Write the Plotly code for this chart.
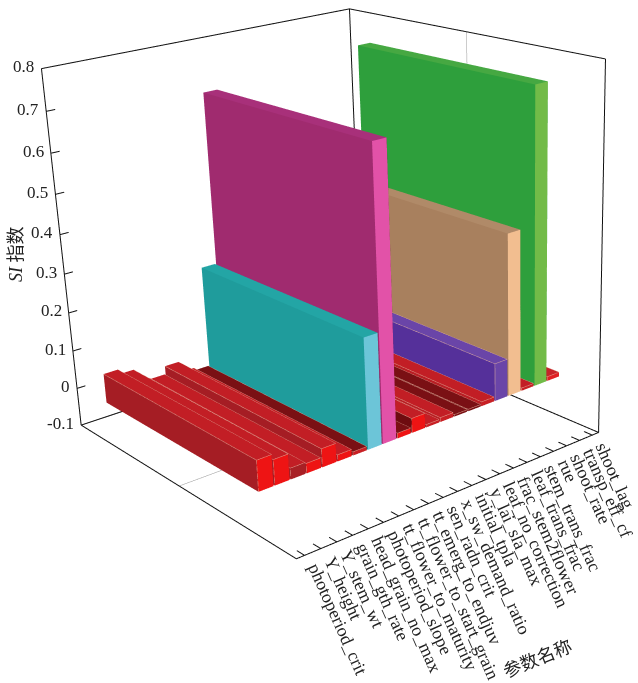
import plotly.graph_objects as go

labels = ["photoperiod_crit", "Y_height", "Y_stem_wt", "grain_gth_rate", "head_grain_no_max",
          "photoperiod_slope", "tt_flower_to_maturity", "tt_flower_to_start_grain", "tt_emerg_to_endjuv",
          "sen_radn_crit", "x_sw_demand_ratio", "initial_tpla", "y_lai_sla_max", "leaf_no_correction",
          "frac_stem2flower", "leaf_trans_frac", "stem_trans_frac", "rue", "shoot_rate",
          "transp_eff_cf", "shoot_lag"]
si = [0.075, 0.062, 0.027, 0.024, 0.045, 0.016, 0.009, 0.27, 0.70, 0.013, 0.036, 0.007, 0.011,
      0.005, 0.005, 0.011, 0.095, 0.405, 0.007, 0.735, 0.011]
side = ["#A51D24", "#A51D24", "#A51D24", "#A51D24", "#A51D24", "#A51D24", "#6E0C10", "#1F9C9C", "#A02B6F",
        "#6E0C10", "#6E0C10", "#A51D24", "#B81E24", "#6E0C10", "#6E0C10", "#B81E24", "#55309A", "#A8805E",
        "#B81E24", "#2E9F3C", "#C01F25"]
top = ["#C21E25", "#C21E25", "#C21E25", "#C21E25", "#C21E25", "#C21E25", "#7A1014", "#23A5A5", "#A8307A",
       "#7A1014", "#C21E25", "#C21E25", "#C21E25", "#7A1014", "#7A1014", "#C21E25", "#6A45A8", "#B08A68",
       "#C21E25", "#46A842", "#C8232A"]
end = ["#EE1414", "#EE1414", "#A82025", "#EE1414", "#EE1414", "#EE1414", "#C82025", "#6CC5D8", "#E252A8",
       "#EE1414", "#EE1414", "#C82025", "#C82025", "#7A1014", "#7A1014", "#C82025", "#6A45A8", "#F2BE90",
       "#C82025", "#72BB48", "#E02025"]
z_ticks = [-0.1, 0, 0.1, 0.2, 0.3, 0.4, 0.5, 0.6, 0.7, 0.8]

X0, X1 = 0.5, 21.5
Y0, Y1 = 0.0, 1.0
Z0, Z1 = -0.1, 0.8
BAR_Y0, BAR_Y1 = 0.155, 0.86
BAR_OFFSET = 0.19
HALF = 0.46
PADY, PADZ = 0.002, 0.002
XL, XR = 0.2, 22.3

vx, vy, vz, fi, fj, fk, fc = [], [], [], [], [], [], []
def quad(pts, col):
    n = len(vx)
    for p in pts:
        vx.append(p[0]); vy.append(p[1]); vz.append(p[2])
    fi.extend([n, n]); fj.extend([n + 1, n + 2]); fk.extend([n + 2, n + 3]); fc.extend([col, col])

ex, ey, ez = [], [], []
def seg(a, b, store=None):
    xs, ys, zs = store
    xs.extend([a[0], b[0], None]); ys.extend([a[1], b[1], None]); zs.extend([a[2], b[2], None])

for i, h in enumerate(si):
    c = BAR_OFFSET + (i + 1)
    a, b = c - HALF, c + HALF
    p, q = BAR_Y0, BAR_Y1
    quad([(a, p, 0), (a, q, 0), (a, q, h), (a, p, h)], side[i])
    quad([(b, p, 0), (b, q, 0), (b, q, h), (b, p, h)], side[i])
    quad([(a, p, 0), (b, p, 0), (b, p, h), (a, p, h)], end[i])
    quad([(a, q, 0), (b, q, 0), (b, q, h), (a, q, h)], side[i])
    quad([(a, p, h), (b, p, h), (b, q, h), (a, q, h)], top[i])
    if h < 0.2:
        seg((a, p, h), (a, q, h), (ex, ey, ez))
        seg((a, p, h), (b, p, h), (ex, ey, ez))
        seg((a, p, h), (a, p, 0), (ex, ey, ez))
        seg((b, p, h), (b, q, h), (ex, ey, ez))

bars = go.Mesh3d(x=vx, y=vy, z=vz, i=fi, j=fj, k=fk, facecolor=fc, flatshading=True,
                 lighting=dict(ambient=1, diffuse=0, specular=0, fresnel=0, roughness=1),
                 hoverinfo="skip", showscale=False)
edges = go.Scatter3d(x=ex, y=ey, z=ez, mode="lines", line=dict(color="#E6B4A0", width=1), hoverinfo="skip")

bx, by, bz = [], [], []
for a, b in [((X0, Y0, Z0), (X1, Y0, Z0)), ((X0, Y0, Z0), (X0, Y1, Z0)), ((X1, Y0, Z0), (X1, Y1, Z0)),
             ((X0, Y1, Z0), (X1, Y1, Z0)), ((X0, Y1, Z0), (X0, Y1, Z1)), ((X1, Y1, Z0), (X1, Y1, Z1)),
             ((X1, Y0, Z0), (X1, Y0, Z1)), ((X0, Y1, Z1), (X1, Y1, Z1)), ((X1, Y0, Z1), (X1, Y1, Z1))]:
    seg(a, b, (bx, by, bz))
for zt in z_ticks:
    seg((X0, Y1, zt), (X0 + 0.55, Y1, zt), (bx, by, bz))
for c in range(1, len(labels) + 1):
    seg((c, Y0, Z0), (c, Y0 + 0.03, Z0), (bx, by, bz))
frame = go.Scatter3d(x=bx, y=by, z=bz, mode="lines", line=dict(color="#111111", width=2), hoverinfo="skip")

gx, gy, gz = [], [], []
seg((X0, 0.5, Z0), (X1, 0.5, Z0), (gx, gy, gz))
seg((X1, 0.5, Z0), (X1, 0.5, Z1), (gx, gy, gz))
grid = go.Scatter3d(x=gx, y=gy, z=gz, mode="lines", line=dict(color="#999999", width=1), hoverinfo="skip")

TF = "Liberation Serif"
ann = []
for zt in z_ticks:
    ann.append(dict(x=X0, y=Y1, z=zt, text=f"{zt:g}", showarrow=False, xanchor="right", yanchor="middle",
                    xshift=-5, yshift=2, font=dict(family=TF, size=17, color="#222222")))
for c, lab in enumerate(labels, start=1):
    ann.append(dict(x=c, y=Y0, z=Z0, text=lab, showarrow=False, xanchor="left", yanchor="top", textangle=66,
                    xshift=-3, yshift=-2, font=dict(family=TF, size=18, color="#222222")))

axis = dict(showgrid=False, zeroline=False, showline=False, showticklabels=False, showbackground=False,
            showspikes=False, title="", ticks="")
xspan = XR - XL
aspect = dict(x=xspan / (X1 - X0), y=1 + 2 * PADY / (Y1 - Y0), z=1 + 2 * PADZ / (Z1 - Z0))
shift = ((XL + XR) / 2 - (X0 + X1) / 2) / (X1 - X0)
eye = (-2.4237 - shift, -3.2502, 1.398)
center = (-0.0737 - shift, -0.0512, -0.2101)
up = (0.2623, 0.2716, 0.9254)

# plotly's 3D view has a fixed 45 degree field of view; the reference uses about half of that,
# so the figure is drawn at twice the window size and centred on the window.
SCALE = 2
W, H = 638, 683
FW, FH = W * SCALE, H * SCALE
OX, OY = (FW - W) // 2, (FH - H) // 2

def paper(px, py):
    return (px + OX) / FW, 1 - (py + OY) / FH

tx1, ty1 = paper(16, 254)
tx2, ty2 = paper(537, 657)
fig = go.Figure([grid, bars, edges, frame])
fig.update_layout(
    width=FW, height=FH, margin=dict(l=0, r=0, t=0, b=0), showlegend=False,
    paper_bgcolor="white", plot_bgcolor="white",
    scene=dict(
        domain=dict(x=[0, 1], y=[0, 1]),
        xaxis=dict(axis, range=[XL, XR]), yaxis=dict(axis, range=[Y0 - PADY, Y1 + PADY]),
        zaxis=dict(axis, range=[Z0 - PADZ, Z1 + PADZ]),
        aspectmode="manual", aspectratio=aspect,
        camera=dict(projection=dict(type="perspective"),
                    eye=dict(x=eye[0], y=eye[1], z=eye[2]),
                    center=dict(x=center[0], y=center[1], z=center[2]),
                    up=dict(x=up[0], y=up[1], z=up[2])),
        annotations=ann),
    annotations=[
        dict(xref="paper", yref="paper", x=tx1, y=ty1, text="<i>SI</i> 指数", textangle=-90, xanchor="center",
             yanchor="middle", showarrow=False,
             font=dict(family="Liberation Serif, Noto Sans CJK SC", size=18, color="#222222")),
        dict(xref="paper", yref="paper", x=tx2, y=ty2, text="参数名称", textangle=-22, xanchor="center",
             yanchor="middle", showarrow=False, font=dict(family="Noto Sans CJK SC", size=18, color="#222222")),
    ])
js = ("var d=document.querySelector('.plotly-graph-div');d.style.position='absolute';"
      f"d.style.left='-{OX}px';d.style.top='-{OY}px';"
      "document.documentElement.style.overflow='hidden';document.body.style.overflow='hidden';")
fig.write_html("out.html", post_script=js)
